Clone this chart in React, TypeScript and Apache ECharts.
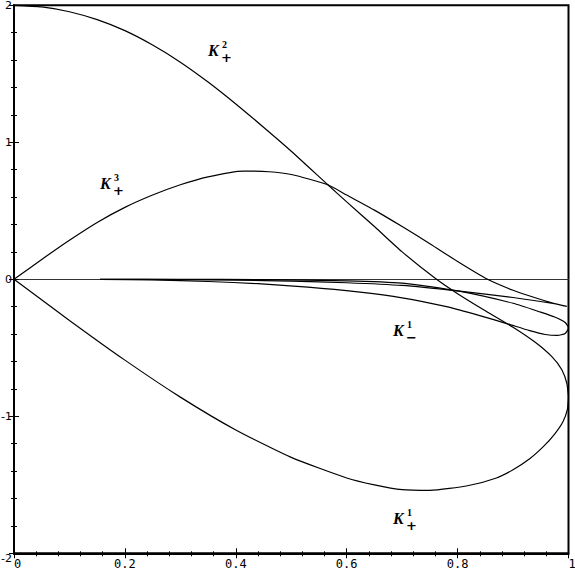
import React, { useEffect, useRef } from "react";
import * as echarts from "echarts";

// Axis ranges / ticks
const xMin = 0, xMax = 1, xStep = 0.2;
const yMin = -2, yMax = 2, yStep = 1;

// Curve K+^2 (starts at (0,2)) running down into the right edge of the K+^1 loop
const kPlus2: [number, number][] = [
  [0, 2.0], [0.05, 1.988], [0.1, 1.953], [0.15, 1.895], [0.2, 1.815], [0.25, 1.71],
  [0.3, 1.585], [0.35, 1.44], [0.4, 1.28], [0.45, 1.11], [0.5, 0.935], [0.566, 0.69],
  [0.6, 0.565], [0.65, 0.385], [0.7, 0.2], [0.762, 0.0], [0.8, -0.105], [0.85, -0.23],
  [0.9, -0.35], [0.94, -0.46], [0.97, -0.565], [0.988, -0.66], [0.997, -0.76], [1.0, -0.86],
];

// Curve K+^1 (big lower loop, from the right edge back to the origin)
const kPlus1: [number, number][] = [
  [1.0, -0.86], [0.998, -0.95], [0.99, -1.04], [0.975, -1.13], [0.955, -1.22],
  [0.93, -1.31], [0.9, -1.39], [0.87, -1.45], [0.82, -1.505], [0.75, -1.54],
  [0.7, -1.535], [0.65, -1.5], [0.6, -1.45], [0.5, -1.3], [0.4, -1.1], [0.3, -0.86],
  [0.2, -0.59], [0.1, -0.3], [0, 0],
];

// Curve K+^3 (arch from origin, tip on the right, back along the axis)
const kPlus3: [number, number][] = [
  [0, 0], [0.05, 0.145], [0.1, 0.285], [0.15, 0.415], [0.2, 0.525], [0.25, 0.615],
  [0.3, 0.69], [0.35, 0.748], [0.413, 0.79], [0.46, 0.785], [0.5, 0.765], [0.566, 0.69],
  [0.6, 0.615], [0.65, 0.505], [0.7, 0.385], [0.75, 0.26], [0.8, 0.13], [0.854, 0.0],
  [0.9, -0.08], [0.94, -0.135], [0.97, -0.172], [0.99, -0.192], [0.997, -0.198],
  [0.98, -0.182], [0.9, -0.133], [0.8, -0.085], [0.7, -0.045], [0.6, -0.025],
  [0.5, -0.013], [0.4, -0.006], [0.3, -0.002], [0.155, 0.0],
];

// Curve K-^1 (thin loop just below the axis)
const kMinus1: [number, number][] = [
  [0.155, 0.0], [0.25, -0.005], [0.35, -0.016], [0.44, -0.032], [0.53, -0.057],
  [0.62, -0.092], [0.7, -0.135], [0.78, -0.2], [0.84, -0.265], [0.89, -0.325],
  [0.93, -0.375], [0.958, -0.403], [0.98, -0.41], [0.994, -0.395], [1.0, -0.355],
  [0.994, -0.315], [0.975, -0.275], [0.95, -0.24], [0.9, -0.175], [0.8, -0.085],
  [0.7, -0.028], [0.6, -0.011], [0.45, -0.003], [0.3, 0.0], [0.155, 0.0],
];

const curves = [
  { name: "K+2", data: kPlus2 },
  { name: "K+1", data: kPlus1 },
  { name: "K+3", data: kPlus3 },
  { name: "K-1", data: kMinus1 },
];

// Curve labels: main letter, superscript, subscript
const curveLabels = [
  { main: "K", sup: "2", sub: "+", x: 208, y: 50 },
  { main: "K", sup: "3", sub: "+", x: 100, y: 183 },
  { main: "K", sup: "1", sub: "\u2212", x: 393, y: 330 },
  { main: "K", sup: "1", sub: "+", x: 393, y: 518 },
];

const xTickFont = { fontFamily: "DejaVu Sans Mono", fontSize: 12, color: "#000" };
const yTickFont = { fontFamily: "DejaVu Sans", fontSize: 11, color: "#000" };

export default function App() {
  const ref = useRef<HTMLDivElement>(null);
  useEffect(() => {
    if (!ref.current) return;
    const chart = echarts.init(ref.current, undefined, { renderer: "svg" });
    const baseX = {
      type: "value" as const,
      min: xMin,
      max: xMax,
      interval: xStep,
      position: "bottom" as const,
      splitLine: { show: false },
    };
    const baseY = {
      type: "value" as const,
      min: yMin,
      max: yMax,
      interval: yStep,
      position: "left" as const,
      splitLine: { show: false },
    };
    const graphics: any[] = [];
    curveLabels.forEach((l) => {
      graphics.push({
        type: "text", x: l.x, y: l.y,
        style: { text: l.main, font: 'bold italic 16px "Liberation Serif"', fill: "#000", align: "left", verticalAlign: "middle" },
      });
      graphics.push({
        type: "text", x: l.x + 14, y: l.y - 6,
        style: { text: l.sup, font: 'bold 10px "Liberation Serif"', fill: "#000", align: "left", verticalAlign: "middle" },
      });
      graphics.push({
        type: "text", x: l.x + 13, y: l.y + 7,
        style: { text: l.sub, font: 'bold 13px "DejaVu Sans"', fill: "#000", align: "left", verticalAlign: "middle" },
      });
    });
    chart.setOption({
      animation: false,
      backgroundColor: "#fff",
      grid: {
        left: 14, right: 6.5, top: 5.3, bottom: 21.7,
        outerBoundsMode: "none",
        containLabel: false,
        show: true, borderColor: "#000", borderWidth: 2, backgroundColor: "transparent",
      },
      xAxis: [
        {
          ...baseX,
          axisLine: { show: true, onZero: false, lineStyle: { color: "#000", width: 2 } },
          axisTick: { show: true, length: 5, lineStyle: { color: "#000", width: 1 } },
          minorTick: { show: true, splitNumber: 5, length: 3, lineStyle: { color: "#000", width: 1 } },
          axisLabel: { ...xTickFont, margin: 5, alignMinLabel: "left", alignMaxLabel: "left" },
        },
        {
          ...baseX,
          axisLine: { show: false, onZero: false },
          axisTick: { show: true, inside: true, length: 5, lineStyle: { color: "#000", width: 1 } },
          minorTick: { show: true, splitNumber: 5, length: 2, lineStyle: { color: "#000", width: 1 } },
          axisLabel: { show: false },
        },
        {
          ...baseX,
          axisLine: { show: true, onZero: true, lineStyle: { color: "#333", width: 1 } },
          axisTick: { show: false },
          axisLabel: { show: false },
        },
      ],
      yAxis: [
        {
          ...baseY,
          axisLine: { show: true, onZero: false, lineStyle: { color: "#000", width: 2 } },
          axisTick: { show: true, length: 5, lineStyle: { color: "#000", width: 1 } },
          minorTick: { show: true, splitNumber: 5, length: 3, lineStyle: { color: "#000", width: 1 } },
          axisLabel: { ...yTickFont, margin: 2, verticalAlignMinLabel: "top" },
        },
        {
          ...baseY,
          axisLine: { show: false, onZero: false },
          axisTick: { show: true, inside: true, length: 5, lineStyle: { color: "#000", width: 1 } },
          minorTick: { show: true, splitNumber: 5, length: 3, lineStyle: { color: "#000", width: 1 } },
          axisLabel: { show: false },
        },
      ],
      series: curves.map((c) => ({
        type: "line",
        name: c.name,
        data: c.data,
        xAxisIndex: 0,
        yAxisIndex: 0,
        symbol: "none",
        smooth: 0.2,
        lineStyle: { color: "#000", width: 1.2 },
      })),
      graphic: graphics,
    });
    return () => chart.dispose();
  }, []);
  return (
    <div
      ref={ref}
      style={{ position: "fixed", left: 0, top: 0, width: 575, height: 575, background: "#fff" }}
    />
  );
}
